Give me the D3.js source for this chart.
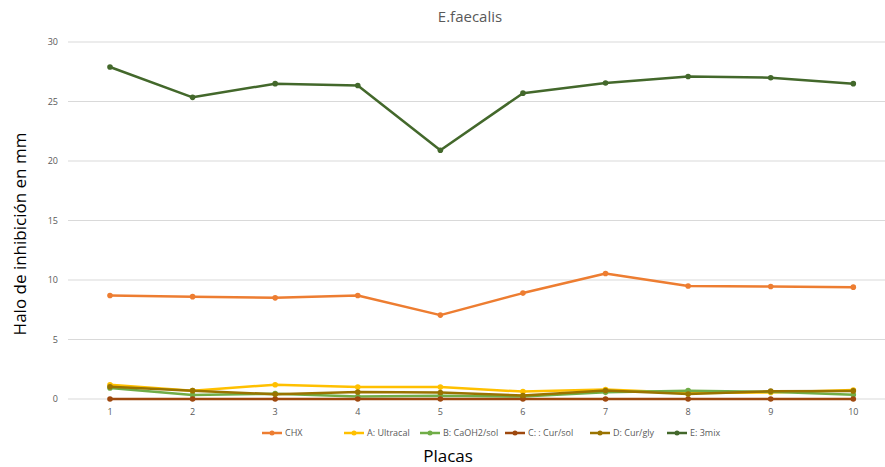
<!DOCTYPE html>
<html>
<head>
<meta charset="utf-8">
<script src="https://cdn.jsdelivr.net/npm/d3@7"></script>
<style>
  body { margin: 0; background: #fff; }
  svg { display: block; font-family: "Open Sans", "Liberation Sans", sans-serif; }
</style>
</head>
<body>
<script>
// data
const placas = [1, 2, 3, 4, 5, 6, 7, 8, 9, 10];
const seriesNames = ["CHX", "A: Ultracal", "B: CaOH2/sol", "C: : Cur/sol", "D: Cur/gly", "E: 3mix"];
const chx      = [8.7, 8.6, 8.5, 8.7, 7.05, 8.9, 10.55, 9.5, 9.45, 9.4];
const ultracal = [1.2, 0.7, 1.2, 1.0, 1.0, 0.62, 0.8, 0.5, 0.55, 0.75];
const caoh2    = [0.92, 0.34, 0.45, 0.2, 0.28, 0.2, 0.56, 0.7, 0.6, 0.35];
const cursol   = [0, 0, 0, 0, 0, 0, 0, 0, 0, 0];
const curgly   = [1.03, 0.7, 0.4, 0.59, 0.55, 0.3, 0.72, 0.42, 0.66, 0.68];
const mix3     = [27.9, 25.35, 26.5, 26.35, 20.9, 25.7, 26.55, 27.1, 27.0, 26.5];
const yTicks = [0, 5, 10, 15, 20, 25, 30];
const colors = ["#ED7D31", "#FFC000", "#70AD47", "#9E480E", "#997300", "#43682B"];

const allSeries = [chx, ultracal, caoh2, cursol, curgly, mix3];

const w = 885, h = 467;
const svg = d3.select("body").append("svg")
  .attr("width", w)
  .attr("height", h);

const x = d3.scalePoint()
  .domain(placas)
  .range([68.7, 894.6])
  .padding(0.5);

const y = d3.scaleLinear()
  .domain([0, 30])
  .range([399, 42]);

// gridlines
svg.append("g")
  .selectAll("line")
  .data(yTicks)
  .enter()
  .append("line")
  .attr("x1", 68)
  .attr("x2", w)
  .attr("y1", d => y(d))
  .attr("y2", d => y(d))
  .attr("stroke", "#d9d9d9")
  .attr("stroke-width", 1);

// y tick labels
svg.append("g")
  .selectAll("text")
  .data(yTicks)
  .enter()
  .append("text")
  .attr("x", 58)
  .attr("y", d => y(d) + 3)
  .attr("text-anchor", "end")
  .attr("font-size", 9)
  .attr("fill", "#595959")
  .text(d => d);

// x tick labels
svg.append("g")
  .selectAll("text")
  .data(placas)
  .enter()
  .append("text")
  .attr("x", d => x(d))
  .attr("y", 415)
  .attr("text-anchor", "middle")
  .attr("font-size", 9)
  .attr("fill", "#595959")
  .text(d => d);

// lines
const line = d3.line()
  .x((d, i) => x(placas[i]))
  .y(d => y(d));

allSeries.forEach((vals, s) => {
  const g = svg.append("g");
  g.append("path")
    .datum(vals)
    .attr("d", line)
    .attr("fill", "none")
    .attr("stroke", colors[s])
    .attr("stroke-width", 2.5)
    .attr("stroke-linejoin", "round")
    .attr("stroke-linecap", "round");
  g.selectAll("circle")
    .data(vals)
    .enter()
    .append("circle")
    .attr("cx", (d, i) => x(placas[i]))
    .attr("cy", d => y(d))
    .attr("r", 2.8)
    .attr("fill", colors[s]);
});

// legend
const legendX = [262, 344, 420, 505, 590, 667];
const legend = svg.append("g");
seriesNames.forEach((name, i) => {
  const lg = legend.append("g").attr("transform", "translate(" + legendX[i] + ",433)");
  lg.append("line")
    .attr("x1", 0).attr("x2", 20)
    .attr("stroke", colors[i])
    .attr("stroke-width", 2.5);
  lg.append("circle")
    .attr("cx", 10).attr("r", 2.5)
    .attr("fill", colors[i]);
  lg.append("text")
    .attr("x", 23)
    .attr("y", 3)
    .attr("font-size", 9)
    .attr("fill", "#595959")
    .text(name);
});

// titles
svg.append("text")
  .attr("x", 470)
  .attr("y", 22)
  .attr("text-anchor", "middle")
  .attr("font-size", 15)
  .attr("fill", "#595959")
  .text("E.faecalis");

svg.append("text")
  .attr("x", 448)
  .attr("y", 462)
  .attr("text-anchor", "middle")
  .attr("font-size", 17)
  .attr("fill", "#000")
  .text("Placas");

svg.append("text")
  .attr("transform", "translate(26,234) rotate(-90)")
  .attr("text-anchor", "middle")
  .attr("font-size", 17)
  .attr("fill", "#000")
  .text("Halo de inhibición en mm");
</script>
</body>
</html>
